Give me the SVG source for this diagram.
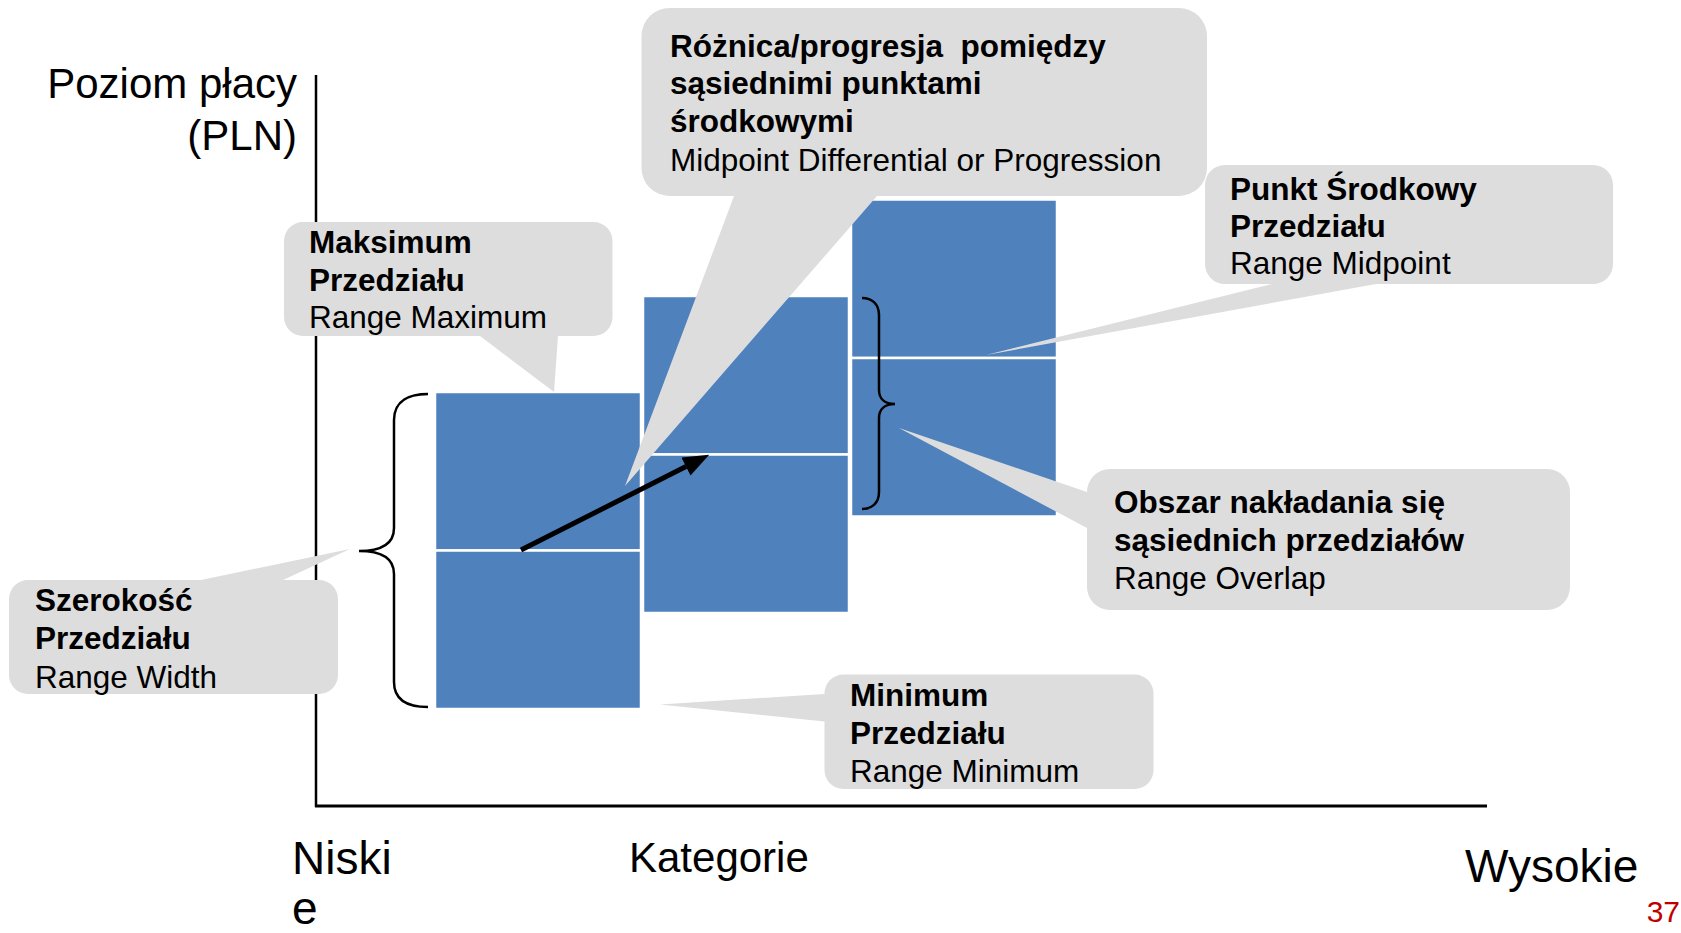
<svg xmlns="http://www.w3.org/2000/svg" width="1681" height="933" viewBox="0 0 1681 933">
  <style>
    text { font-family: "Liberation Sans", Arial, sans-serif; fill: #000; }
    .axis-label { font-size: 42px; }
    .end-label { font-size: 46px; }
    .callout-text { font-size: 31.5px; }
    .b { font-weight: bold; }
    .callout { fill: #DDDDDD; }
    .band { fill: #4F81BD; stroke: #FFFFFF; stroke-width: 2.5; }
    .axis { stroke: #000; fill: none; }
    .brace { stroke: #000; stroke-width: 2.5; fill: none; }
  </style>
  <defs>
    <marker id="arrowhead" markerUnits="userSpaceOnUse" markerWidth="26" markerHeight="20" refX="0" refY="10" orient="auto">
      <path d="M0,0 L26,10 L0,20 Z" fill="#000"/>
    </marker>
  </defs>

  <!-- axes -->
  <g id="axes">
    <line class="axis" x1="316" y1="75" x2="316" y2="807" stroke-width="2.5"/>
    <line class="axis" x1="315" y1="806" x2="1487" y2="806" stroke-width="3"/>
    <text class="axis-label" x="297" y="98" text-anchor="end">Poziom płacy</text>
    <text class="axis-label" x="297" y="150" text-anchor="end">(PLN)</text>
    <text class="end-label" x="292" y="874">Niski</text>
    <text class="end-label" x="292" y="924">e</text>
    <text class="axis-label" x="629" y="872">Kategorie</text>
    <text class="end-label" x="1465" y="882">Wysokie</text>
  </g>

  <!-- salary ranges: each split at its midpoint -->
  <g id="range-1">
    <rect class="band" x="435" y="392" width="206" height="158.5"/>
    <rect class="band" x="435" y="550.5" width="206" height="158.5"/>
  </g>
  <g id="range-2">
    <rect class="band" x="643" y="296" width="206" height="158.5"/>
    <rect class="band" x="643" y="454.5" width="206" height="158.5"/>
  </g>
  <g id="range-3">
    <rect class="band" x="851" y="199.5" width="206" height="158.5"/>
    <rect class="band" x="851" y="358" width="206" height="158.5"/>
  </g>

  <!-- braces and midpoint arrow -->
  <g id="connectors">
    <path class="brace" d="M428,394 C410,394 394,400 394,420 L394,528 C394,545 380,551 359,551 C380,551 394,557 394,574 L394,682 C394,702 410,707 428,707"/>
    <path class="brace" d="M862,298 C872,298 879,304 879,315 L879,390 C879,399 885,404 895,404 C885,404 879,409 879,418 L879,492 C879,503 872,509 862,509"/>
    <line x1="521" y1="550" x2="686" y2="466.6" stroke="#000" stroke-width="5" marker-end="url(#arrowhead)"/>
  </g>

  <!-- callouts -->
  <g id="callout-maximum">
    <path class="callout" d="M303,222 H593.5 A19,19 0 0 1 612.5,241 V317 A19,19 0 0 1 593.5,336 H558 L554,392 L480,336 H303 A19,19 0 0 1 284,317 V241 A19,19 0 0 1 303,222 Z"/>
    <text class="callout-text b" x="309" y="253">Maksimum</text>
    <text class="callout-text b" x="309" y="290.5">Przedziału</text>
    <text class="callout-text" x="309" y="328">Range Maximum</text>
  </g>

  <g id="callout-progression">
    <path class="callout" d="M670,8 H1179 A28,28 0 0 1 1207,36 V168 A28,28 0 0 1 1179,196 H877 L625,486 L734,196 H669.5 A28,28 0 0 1 641.5,168 V36 A28,28 0 0 1 670,8 Z"/>
    <text class="callout-text b" x="670" y="56.5" xml:space="preserve">Różnica/progresja  pomiędzy</text>
    <text class="callout-text b" x="670" y="94">sąsiednimi punktami</text>
    <text class="callout-text b" x="670" y="132">środkowymi</text>
    <text class="callout-text" x="670" y="170.5">Midpoint Differential or Progression</text>
  </g>

  <g id="callout-midpoint">
    <path class="callout" d="M1225,165 H1593 A20,20 0 0 1 1613,185 V264 A20,20 0 0 1 1593,284 H1376 L986,355 L1272,284 H1225 A20,20 0 0 1 1205,264 V185 A20,20 0 0 1 1225,165 Z"/>
    <text class="callout-text b" x="1230" y="199.5">Punkt Środkowy</text>
    <text class="callout-text b" x="1230" y="236.5">Przedziału</text>
    <text class="callout-text" x="1230" y="273.5">Range Midpoint</text>
  </g>

  <g id="callout-overlap">
    <path class="callout" d="M1110,469 H1547 A23,23 0 0 1 1570,492 V587 A23,23 0 0 1 1547,610 H1110 A23,23 0 0 1 1087,587 V528 L899,428 L1087,492 A23,23 0 0 1 1110,469 Z"/>
    <text class="callout-text b" x="1114" y="513">Obszar nakładania się</text>
    <text class="callout-text b" x="1114" y="550.5">sąsiednich przedziałów</text>
    <text class="callout-text" x="1114" y="589">Range Overlap</text>
  </g>

  <g id="callout-width">
    <path class="callout" d="M28,580 H201 L350,549 L283,580 H319 A19,19 0 0 1 338,599 V675 A19,19 0 0 1 319,694 H28 A19,19 0 0 1 9,675 V599 A19,19 0 0 1 28,580 Z"/>
    <text class="callout-text b" x="35" y="611">Szerokość</text>
    <text class="callout-text b" x="35" y="649">Przedziału</text>
    <text class="callout-text" x="35" y="687.5">Range Width</text>
  </g>

  <g id="callout-minimum">
    <path class="callout" d="M843.5,674.5 H1134.5 A19,19 0 0 1 1153.5,693.5 V770 A19,19 0 0 1 1134.5,789 H843.5 A19,19 0 0 1 824.5,770 V721.5 L660,704.5 L824.5,694 V693.5 A19,19 0 0 1 843.5,674.5 Z"/>
    <text class="callout-text b" x="850" y="706">Minimum</text>
    <text class="callout-text b" x="850" y="744">Przedziału</text>
    <text class="callout-text" x="850" y="782">Range Minimum</text>
  </g>

  <text x="1680" y="922" text-anchor="end" font-size="30" style="fill:#C00000">37</text>
</svg>
